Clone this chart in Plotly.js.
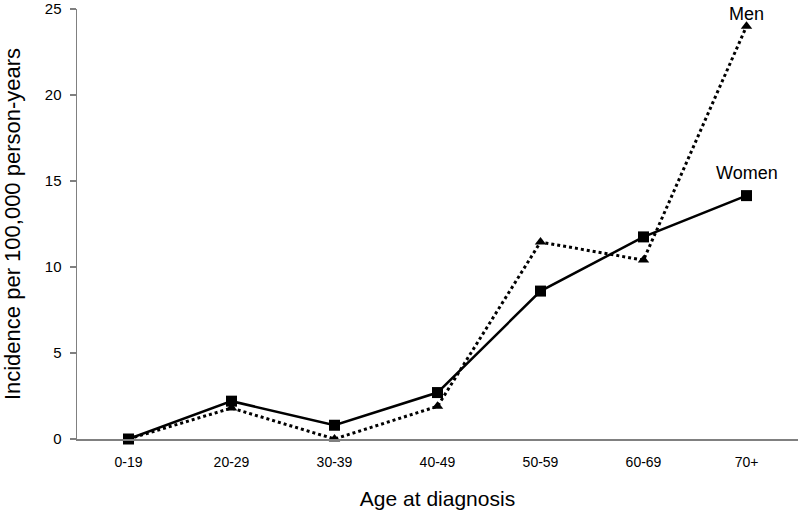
<!DOCTYPE html>
<html>
<head>
<meta charset="utf-8">
<script src="https://cdn.plot.ly/plotly-3.0.1.min.js"></script>
<style>html,body{margin:0;padding:0;background:#fff;}#chart{width:800px;height:510px;}</style>
</head>
<body>
<div id="chart"></div>
<script>
var categories = ["0-19", "20-29", "30-39", "40-49", "50-59", "60-69", "70+"];
var women = [0, 2.2, 0.8, 2.7, 8.6, 11.75, 14.15];
var men = [0, 1.8, 0, 1.9, 11.45, 10.4, 24];
var yTicks = [0, 5, 10, 15, 20, 25];

var traces = [
  {
    x: categories, y: men, name: "Men", type: "scatter", mode: "lines+markers",
    line: {color: "#000", width: 3, dash: "dot"},
    marker: {symbol: "triangle-up", size: 10, color: "#000"},
    cliponaxis: false
  },
  {
    x: categories, y: women, name: "Women", type: "scatter", mode: "lines+markers",
    line: {color: "#000", width: 2.5},
    marker: {symbol: "square", size: 11, color: "#000"},
    cliponaxis: false
  }
];

var layout = {
  width: 800, height: 510,
  margin: {l: 77, r: 2, t: 9, b: 71},
  paper_bgcolor: "#fff", plot_bgcolor: "#fff",
  showlegend: false,
  font: {family: "Liberation Sans, Arial, sans-serif", color: "#000"},
  xaxis: {
    type: "category",
    range: [-0.5, 6.5],
    showline: true, linecolor: "#808080", linewidth: 1.5,
    showgrid: false, zeroline: false,
    ticks: "",
    ticklabelstandoff: 10,
    tickfont: {size: 14},
    title: {text: "Age at diagnosis", font: {size: 21}, standoff: 24}
  },
  yaxis: {
    range: [0, 25],
    tickvals: yTicks,
    ticktext: yTicks.map(String),
    showline: true, linecolor: "#808080", linewidth: 1.5,
    showgrid: false, zeroline: false,
    ticks: "outside", ticklen: 6, tickcolor: "#808080", tickwidth: 1.5,
    ticklabelstandoff: 5,
    ticklabeloverflow: "allow",
    tickfont: {size: 15},
    title: {text: "Incidence per 100,000 person-years", font: {size: 22}, standoff: 25}
  },
  annotations: [
    {x: "70+", y: men[6], text: "Men", showarrow: false, yanchor: "bottom", yshift: 1, borderpad: 0, font: {size: 18}},
    {x: "70+", y: women[6], text: "Women", showarrow: false, yanchor: "bottom", yshift: 11, font: {size: 18}}
  ]
};

Plotly.newPlot("chart", traces, layout, {staticPlot: true, displayModeBar: false});
</script>
</body>
</html>
